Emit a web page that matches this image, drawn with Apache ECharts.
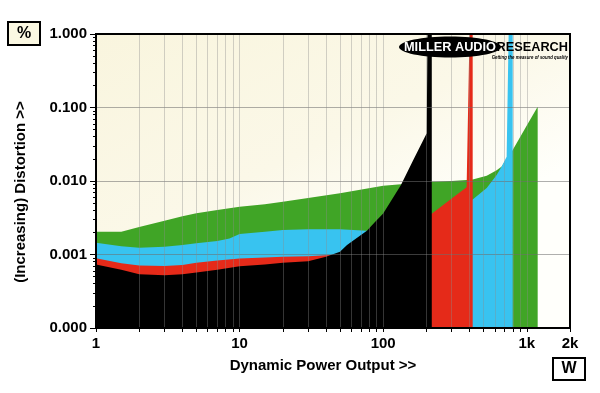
<!DOCTYPE html>
<html>
<head>
<meta charset="utf-8">
<script src="https://cdn.jsdelivr.net/npm/echarts@6/dist/echarts.min.js"></script>
<style>
html,body{margin:0;padding:0;background:#fff;}
#chart{width:600px;height:393px;}
</style>
</head>
<body>
<div id="chart"></div>
<script>
// ---- data (power in W, distortion in %) ----
const blackPower = [1, 1.5, 2, 3, 4, 5, 7, 10, 15, 20, 30, 40, 50, 56, 77, 88, 100, 133, 162, 201, 204, 218, 218];
const blackDist  = [0.00073, 0.00062, 0.00054, 0.00052, 0.00054, 0.00057, 0.00062, 0.00069, 0.00073, 0.00077, 0.00081, 0.00093, 0.00109, 0.00135, 0.0021, 0.0028, 0.0036, 0.0088, 0.0193, 0.0446, 2, 2, 0.0001];

const redPower = [1, 1.5, 2, 3, 4, 5, 7, 10, 15, 20, 30, 40, 50, 100, 150, 219, 300, 381, 402, 420, 420];
const redDist  = [0.00089, 0.00076, 0.00071, 0.0007, 0.00072, 0.00077, 0.00083, 0.00088, 0.00091, 0.00093, 0.00095, 0.00098, 0.001, 0.0019, 0.0027, 0.0036, 0.0058, 0.0082, 2, 2, 0.0001];

const bluePower = [1, 1.5, 2, 3, 4, 5, 7, 8.5, 10, 15, 20, 30, 50, 77, 100, 150, 219, 300, 381, 420, 526, 617, 669, 724, 752, 798, 798];
const blueDist  = [0.00145, 0.00129, 0.00124, 0.00127, 0.00135, 0.00142, 0.00153, 0.00165, 0.0019, 0.00204, 0.00216, 0.0022, 0.0022, 0.0021, 0.0025, 0.003, 0.0034, 0.0045, 0.0053, 0.0056, 0.008, 0.0121, 0.0157, 0.0214, 2, 2, 0.0001];

const greenPower = [1, 1.5, 2, 3, 4, 5, 7, 10, 15, 20, 30, 50, 100, 133, 200, 219, 300, 381, 420, 526, 617, 669, 724, 798, 1000, 1191, 1191];
const greenDist  = [0.00204, 0.00204, 0.00237, 0.00288, 0.00331, 0.00364, 0.00403, 0.00447, 0.00482, 0.00523, 0.00587, 0.00681, 0.0086, 0.009, 0.0095, 0.0098, 0.01, 0.0103, 0.0105, 0.0118, 0.014, 0.0157, 0.02, 0.0264, 0.0567, 0.1026, 0.0001];

const xTickValues = [1,2,3,4,5,6,7,8,9,10,20,30,40,50,60,70,80,90,100,200,300,400,500,600,700,800,900,1000,2000];
const xLabelValues = [1, 10, 100, 1000, 2000];
const yMajorValues = [0.0001, 0.001, 0.01, 0.1, 1];
const yMinorValues = [0.0002,0.0003,0.0004,0.0005,0.0006,0.0007,0.0008,0.0009,
                      0.002,0.003,0.004,0.005,0.006,0.007,0.008,0.009,
                      0.02,0.03,0.04,0.05,0.06,0.07,0.08,0.09,
                      0.2,0.3,0.4,0.5,0.6,0.7,0.8,0.9];

const FONT = '"Liberation Sans", Arial, sans-serif';

function pairs(xs, ys){ return xs.map((x,i)=>[x, ys[i]]); }
function areaSeries(name, xs, ys, color){
  return {
    name, type:'line', data: pairs(xs, ys),
    showSymbol:false, symbol:'none', smooth:false,
    lineStyle:{width:0, color},
    areaStyle:{color, opacity:1, origin:'start'},
    clip:true, silent:true, animation:false
  };
}

const chart = echarts.init(document.getElementById('chart'), null, {renderer:'canvas'});
chart.setOption({
  animation:false,
  backgroundColor:'#ffffff',
  grid:{
    left:96, right:30, top:34, bottom:65, show:true,
    borderWidth:0,
    backgroundColor:{type:'linear', x:0, y:0, x2:0.3, y2:1,
      colorStops:[{offset:0,color:'#f9f5de'},{offset:0.6,color:'#fbf8e8'},{offset:1,color:'#fffffb'}]}
  },
  xAxis:[{
    type:'log', logBase:10, min:1, max:2000, z:10,
    axisLine:{show:true, lineStyle:{color:'#000', width:2}},
    axisTick:{show:true, customValues:xTickValues, length:4, lineStyle:{color:'#000', width:1}},
    axisLabel:{customValues:xLabelValues, margin:8, color:'#000', fontWeight:'bold', fontSize:15, fontFamily:FONT,
      formatter:function(v){ v = Math.round(v); return v >= 1000 ? (v/1000)+'k' : String(v); }},
    splitLine:{show:true, lineStyle:{color:'rgba(140,140,140,0.38)', width:1}}
  }],
  yAxis:[{
    type:'log', logBase:10, min:0.0001, max:1, z:10,
    axisLine:{show:true, lineStyle:{color:'#000', width:2}},
    axisTick:{show:true, customValues:yMajorValues, length:6, lineStyle:{color:'#000', width:1}},
    axisLabel:{customValues:yMajorValues, margin:9, color:'#000', fontWeight:'bold', fontSize:15, fontFamily:FONT,
      formatter:function(v){ return Number(v).toFixed(3); }},
    splitLine:{show:true, lineStyle:{color:'rgba(110,110,110,0.55)', width:1}}
  },{
    type:'log', logBase:10, min:0.0001, max:1, z:10, position:'left',
    axisLine:{show:false},
    axisTick:{show:true, customValues:yMinorValues, length:3, lineStyle:{color:'#000', width:1}},
    axisLabel:{show:false},
    splitLine:{show:false}
  }],
  series:[
    areaSeries('green', greenPower, greenDist, '#40a526'),
    areaSeries('blue', bluePower, blueDist, '#38c3f0'),
    areaSeries('red', redPower, redDist, '#e52a19'),
    areaSeries('black', blackPower, blackDist, '#000000')
  ],
  graphic:[
    {type:'rect', z:100, silent:true, shape:{x:96, y:34, width:474, height:294},
      style:{fill:null, stroke:'#000', lineWidth:2}},
    // % box
    {type:'rect', z:100, shape:{x:8, y:22, width:32, height:23},
      style:{fill:'#fbf8e2', stroke:'#000', lineWidth:2}},
    {type:'text', z:101, x:24, y:34, style:{text:'%', font:'bold 16px '+FONT, fill:'#000', textAlign:'center', textVerticalAlign:'middle'}},
    // W box
    {type:'rect', z:100, shape:{x:553, y:358, width:32, height:22},
      style:{fill:'#fff', stroke:'#000', lineWidth:2}},
    {type:'text', z:101, x:569, y:369, style:{text:'W', font:'bold 16px '+FONT, fill:'#000', textAlign:'center', textVerticalAlign:'middle'}},
    // axis titles
    {type:'text', z:101, x:323, y:366, style:{text:'Dynamic Power Output >>', font:'bold 15px '+FONT, fill:'#000', textAlign:'center', textVerticalAlign:'middle'}},
    {type:'text', z:101, x:21, y:192, rotation:Math.PI/2, style:{text:'(Increasing) Distortion >>', font:'bold 15px '+FONT, fill:'#000', textAlign:'center', textVerticalAlign:'middle'}},
    // logo
    {type:'ellipse', z:100, shape:{cx:450, cy:47, rx:51, ry:10.5}, style:{fill:'#000'}},
    {type:'text', z:101, x:450, y:47, scaleX:0.98, style:{text:'MILLER AUDIO', font:'bold 13px '+FONT, fill:'#fff', textAlign:'center', textVerticalAlign:'middle'}},
    {type:'text', z:101, x:568, y:47, scaleX:0.98, style:{text:'RESEARCH', font:'bold 13px '+FONT, fill:'#000', textAlign:'right', textVerticalAlign:'middle'}},
    {type:'text', z:101, x:568, y:57, scaleX:0.72, style:{text:'Getting the measure of sound quality', font:'italic bold 6px '+FONT, fill:'#000', textAlign:'right', textVerticalAlign:'middle'}}
  ]
});
</script>
</body>
</html>
